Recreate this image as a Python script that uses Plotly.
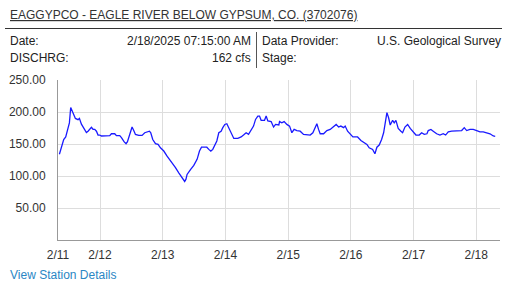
import pandas as pd
import plotly.graph_objects as go

# ---- data ----
base_time = "2025-02-11 00:00"
hours = [8.45, 9.22, 10.10, 10.87, 11.52, 12.28, 12.78, 13.66, 14.58, 15.58, 16.11, 16.88, 17.87, 18.79,
         19.41, 20.06, 20.71, 21.32, 21.97, 22.62, 23.24, 23.89, 24.54, 27.72, 28.37, 29.63, 30.28, 31.55,
         32.20, 33.19, 33.96, 34.50, 35.26, 35.64, 36.26, 36.91, 37.56, 38.82, 40.09, 41.12, 42.00, 42.92,
         43.42, 44.18, 45.22, 46.21, 47.13, 48.40, 49.66, 50.58, 51.58, 52.88, 54.14, 55.18, 56.06, 56.4,
         56.9, 57.32, 58.62, 59.89, 61.15, 62.07, 62.84, 64.10, 64.87, 65.63, 66.40, 67.16, 67.93, 68.70,
         69.46, 70.34, 70.99, 71.76, 72.53, 73.29, 74.17, 75.20, 76.74, 78.00, 78.92, 79.92, 80.84, 81.83,
         82.75, 83.52, 84.40, 85.05, 85.66, 86.96, 87.58, 88.23, 89.49, 90.41, 91.18, 92.44, 92.71, 93.59,
         94.47, 95.50, 96.54, 97.42, 98.30, 99.33, 100.60, 101.90, 103.16, 104.43, 105.46, 106.34, 106.99,
         107.64, 108.26, 109.56, 110.82, 112.09, 113.39, 114.38, 115.30, 116.18, 117.22, 117.83, 118.75,
         119.75, 120.78, 121.28, 122.58, 123.85, 125.11, 126.14, 127.02, 128.33, 129.21, 129.97, 130.85,
         131.77, 132.54, 133.15, 133.80, 134.45, 135.07, 135.99, 136.60, 137.25, 138.13, 139.16, 139.81,
         140.70, 141.73, 142.72, 143.64, 144.91, 146.17, 147.09, 148.09, 149.12, 149.62, 150.65, 151.53,
         152.84, 154.10, 155.36, 156.28, 157.28, 158.58, 161.11, 162.41, 163.41, 164.33, 165.59, 166.85,
         168.16, 169.42, 170.68, 171.98, 173.25, 174.51, 175.25]
discharge_cfs = [134, 144, 157, 161, 170, 183, 207, 199, 190, 188, 190, 181, 173, 168,
                 170, 173, 176, 173, 173, 170, 164, 164, 162.5, 163, 166, 166, 163, 163,
                 160, 153.6, 150.5, 153.6, 165, 170, 176.5, 171, 165, 163.5, 163.5, 167.6, 169, 170,
                 167.6, 157, 150.5, 149.4, 144, 139, 131, 126, 121, 113, 105, 98.4, 93, 91.5,
                 95, 102.5, 110, 116.6, 126, 139, 145, 145, 145, 141.6, 139, 141.6, 149.4, 154.7,
                 167.6, 170, 175.5, 180.6, 181.7, 175.5, 166, 158.7, 158.7, 161, 164, 167.6, 165, 172.8,
                 178, 188.4, 193.7, 193.7, 187, 187, 193.7, 186, 185, 176.5, 180.6, 179.7, 185, 183,
                 185, 180.6, 178, 167.6, 172.8, 171, 170, 165, 164, 164, 167.6, 175.5, 181.7,
                 172.8, 166, 166, 171, 172.8, 176.5, 180.6, 176.5, 178, 175.5, 178, 170,
                 166, 161, 161, 161, 155.6, 152, 149.4, 144, 141.6, 134.8, 145, 148.4,
                 157, 167.6, 186, 199, 191, 179.7, 187, 183, 187, 174.4, 170, 167.6,
                 176.5, 180.6, 174.4, 170, 164, 164, 167.6, 165, 166, 171, 172.8, 170,
                 166, 164, 166, 164, 169, 170, 170, 171, 175.5, 171, 172.8, 172.8,
                 171, 169, 169, 167.6, 166, 162.5, 162]

x_tick_times = ["2025-02-11 07:55", "2025-02-12", "2025-02-13", "2025-02-14", "2025-02-15",
                "2025-02-16", "2025-02-17", "2025-02-18"]
x_tick_labels = ["2/11", "2/12", "2/13", "2/14", "2/15", "2/16", "2/17", "2/18"]
x_range = ["2025-02-11 07:55", "2025-02-18 09:05"]
y_ticks = [50, 100, 150, 200, 250]

title_text = "EAGGYPCO - EAGLE RIVER BELOW GYPSUM, CO. (3702076)"
info_left = [("Date:", "2/18/2025 07:15:00 AM"), ("DISCHRG:", "162 cfs")]
info_right = [("Data Provider:", "U.S. Geological Survey"), ("Stage:", "")]

times = pd.Timestamp(base_time) + pd.to_timedelta(hours, unit="h")

# ---- layout helpers (pixel -> paper) ----
W, H = 508, 283
L, R, T, B = 58, 8, 80, 43
PW, PH = W - L - R, H - T - B


def px(xp):
    return (xp - L) / PW


def py(yp):
    return (H - B - yp) / PH


FONT = "Liberation Sans, Arial, sans-serif"
TXT = "#222222"

fig = go.Figure()
fig.add_trace(go.Scatter(x=times, y=discharge_cfs, mode="lines",
                         line=dict(color="#1a1aff", width=1.3), hoverinfo="skip"))

ann = []


def add_text(text, xp, yp, xanchor="left", color=TXT, size=12):
    ann.append(dict(text=text, x=px(xp), y=py(yp), xref="paper", yref="paper",
                    xanchor=xanchor, yanchor="middle", showarrow=False,
                    font=dict(family=FONT, size=size, color=color),
                    borderpad=0, borderwidth=0))


add_text("<u>" + title_text + "</u>", 10, 15, color="#333333")
row_y = [40.5, 58]
for (lab, val), yy in zip(info_left, row_y):
    add_text(lab, 10, yy)
    add_text(val, 251, yy, xanchor="right")
for (lab, val), yy in zip(info_right, row_y):
    add_text(lab, 262, yy)
    if val:
        add_text(val, 501, yy, xanchor="right")
add_text("View Station Details", 10, 275, color="#2a86c4")

shapes = [
    dict(type="line", xref="paper", yref="paper", x0=px(5), x1=px(502), y0=py(28.5), y1=py(28.5),
         line=dict(color="#333333", width=1)),
    dict(type="line", xref="paper", yref="paper", x0=px(256.5), x1=px(256.5), y0=py(32), y1=py(68),
         line=dict(color="#555555", width=1)),
]

fig.update_layout(
    width=W, height=H, margin=dict(l=L, r=R, t=T, b=B),
    paper_bgcolor="white", plot_bgcolor="white", showlegend=False,
    font=dict(family=FONT, size=12, color=TXT),
    annotations=ann, shapes=shapes,
    xaxis=dict(type="date", range=x_range, tickvals=x_tick_times, ticktext=x_tick_labels,
               showgrid=True, gridcolor="#dddddd", gridwidth=1, zeroline=False,
               showline=True, linecolor="#999999", linewidth=1, ticks="", ticklabelstandoff=4,
               tickfont=dict(size=12, color="#333333")),
    yaxis=dict(range=[0, 250], tickvals=y_ticks, tickformat=".2f",
               showgrid=True, gridcolor="#dddddd", gridwidth=1, zeroline=False,
               showline=True, linecolor="#999999", linewidth=1, ticks="", ticklabelstandoff=9,
               tickfont=dict(size=12, color="#333333")),
)

fig.write_html("out.html")
